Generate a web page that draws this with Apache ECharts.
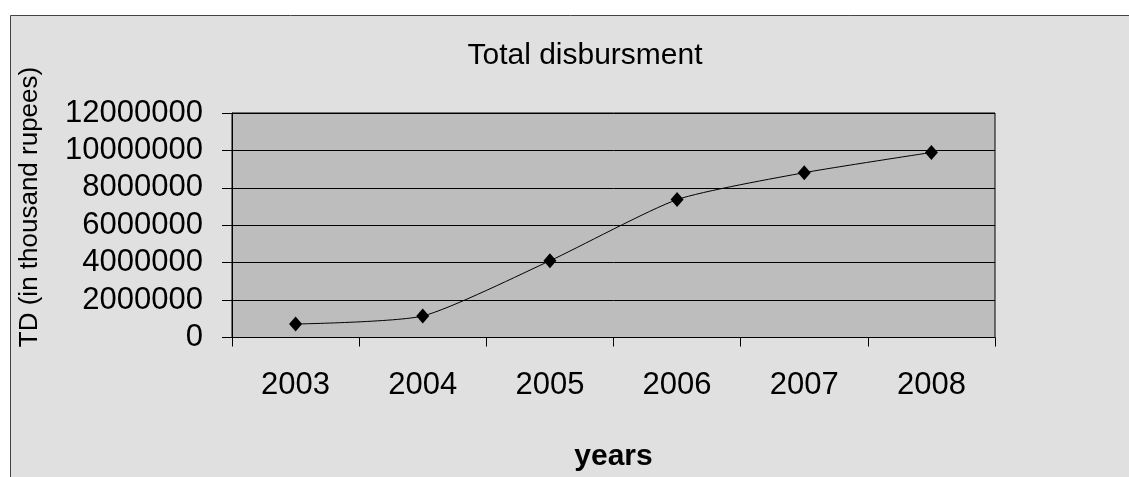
<!DOCTYPE html>
<html>
<head>
<meta charset="utf-8">
<script src="https://cdn.jsdelivr.net/npm/echarts@6/dist/echarts.min.js"></script>
<style>
  html, body { margin: 0; padding: 0; background: #ffffff; }
  #chart { width: 1129px; height: 477px; }
</style>
</head>
<body>
<div id="chart"></div>
<script>
const years = ['2003', '2004', '2005', '2006', '2007', '2008'];
const totalDisbursement = [720000, 1150000, 4100000, 7370000, 8810000, 9890000];
const titleText = 'Total disbursment';
const xAxisName = 'years';
const yAxisName = 'TD (in thousand rupees)';

const FONT = '"Liberation Sans", Arial, sans-serif';
const chart = echarts.init(document.getElementById('chart'), null, { renderer: 'canvas' });

chart.setOption({
  backgroundColor: '#ffffff',
  animation: false,
  graphic: [
    {
      type: 'rect', z: -10, silent: true,
      shape: { x: 10.5, y: 15.5, width: 1200, height: 500 },
      style: { fill: '#e0e0e0', stroke: '#444444', lineWidth: 1 }
    },
    {
      type: 'text', silent: true,
      x: 30, y: 207,
      rotation: Math.PI / 2,
      style: {
        text: yAxisName, x: 0, y: 0, fill: '#000',
        font: '26px ' + FONT, align: 'center', verticalAlign: 'middle'
      }
    }
  ],
  title: {
    text: titleText,
    left: 580, top: 36,
    textAlign: 'center',
    textStyle: { fontFamily: FONT, fontSize: 30, fontWeight: 'normal', color: '#000' }
  },
  grid: {
    left: 232, right: 134, top: 113, bottom: 139.5,
    show: true, backgroundColor: '#bdbdbd', borderColor: '#000', borderWidth: 1
  },
  xAxis: {
    type: 'category',
    data: years,
    boundaryGap: true,
    name: xAxisName,
    nameLocation: 'middle',
    nameGap: 104,
    nameTextStyle: { fontFamily: FONT, fontSize: 30, fontWeight: 'bold', color: '#000' },
    axisLine: { lineStyle: { color: '#000', width: 1 } },
    axisTick: { show: true, inside: false, length: 9, alignWithLabel: false, lineStyle: { color: '#000' } },
    axisLabel: { fontFamily: FONT, fontSize: 31, color: '#000', margin: 32 },
    splitLine: { show: false }
  },
  yAxis: {
    type: 'value',
    min: 0, max: 12000000, interval: 2000000,
    axisLine: { show: true, lineStyle: { color: '#000', width: 1 } },
    axisTick: { show: true, inside: false, length: 10, lineStyle: { color: '#000' } },
    axisLabel: { fontFamily: FONT, fontSize: 31, color: '#000', margin: 29, formatter: function (v) { return String(v); } },
    splitLine: { show: true, lineStyle: { color: '#000', width: 1 } }
  },
  series: [{
    type: 'line',
    data: totalDisbursement,
    smooth: 0.2,
    symbol: 'diamond',
    symbolSize: [13, 15],
    itemStyle: { color: '#000' },
    lineStyle: { color: '#000', width: 1 }
  }]
});
</script>
</body>
</html>
